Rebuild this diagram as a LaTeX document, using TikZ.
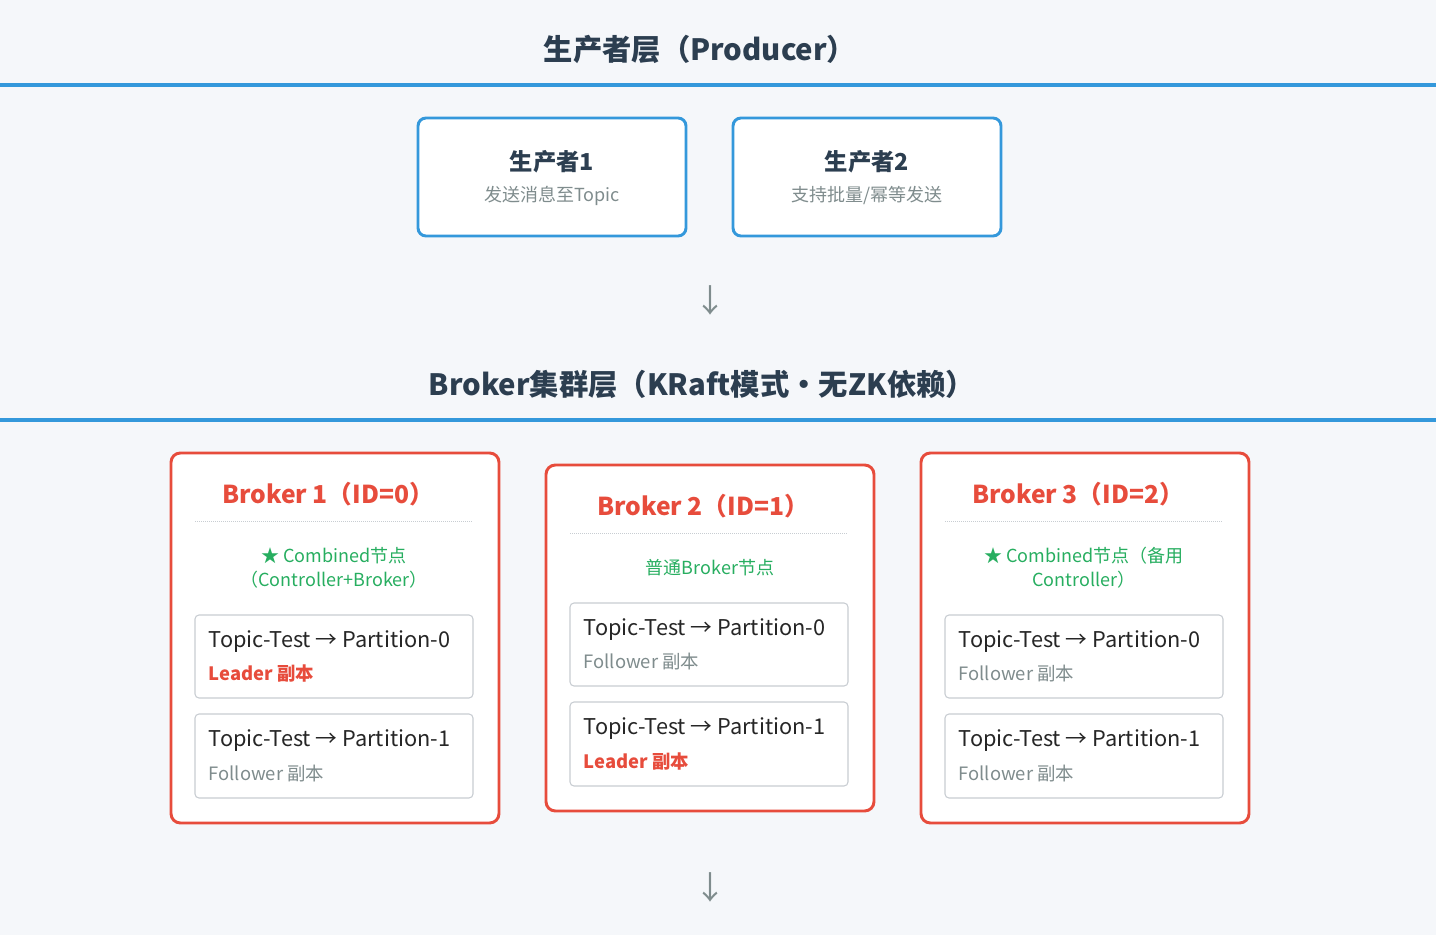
\documentclass[tikz,border=0pt]{standalone}
\usepackage{fontspec}
\setmainfont{Noto Sans CJK SC}
\definecolor{bg}{HTML}{F5F7FA}
\definecolor{blu}{HTML}{3498DB}
\definecolor{dark}{HTML}{2C3E50}
\definecolor{rd}{HTML}{E74C3C}
\definecolor{grn}{HTML}{27AE60}
\definecolor{gry}{HTML}{7F8C8D}
\definecolor{bd}{HTML}{C8CDD2}
\begin{document}
\begin{tikzpicture}[x=0.75pt,y=-0.75pt,
 ttl/.style={font=\fontsize{22}{26}\selectfont\bfseries,text=dark},
 pbox/.style={draw=blu,line width=2.2pt,fill=white,rounded corners=6pt},
 ptitle/.style={font=\fontsize{17.5}{21}\selectfont\bfseries,text=dark},
 psub/.style={font=\fontsize{13.5}{16}\selectfont,text=gry},
 bbox/.style={draw=rd,line width=2.2pt,fill=white,rounded corners=7pt},
 btitle/.style={font=\fontsize{18.5}{22}\selectfont\bfseries,text=rd},
 gtxt/.style={font=\fontsize{13.5}{18}\selectfont,text=grn,align=center},
 ibox/.style={draw=bd,line width=0.8pt,fill=white,rounded corners=3pt},
 tl/.style={font=\fontsize{16.3}{19}\selectfont,text=black!85,anchor=west},
 fl/.style={font=\fontsize{13.8}{16}\selectfont,text=gry,anchor=west},
 ll/.style={font=\fontsize{13.8}{16}\selectfont\bfseries,text=rd,anchor=west},
 arr/.style={font=\fontsize{24}{28}\selectfont,text=gry}]
\fill[bg] (0,0) rectangle (1436,935);
\useasboundingbox (0,0) rectangle (1436,935);
\node[ttl] (t1) at (700,49) {生产者层（Producer）};
\draw[blu,line width=3pt] (0,85) -- (1436,85);
\draw[pbox] (418,118) rectangle (686,236);
\node[ptitle] (p1) at (552,162) {生产者1};
\node[psub] (p1s) at (552,196) {发送消息至Topic};
\draw[pbox] (733,118) rectangle (1001,236);
\node[ptitle] (p2) at (867,162) {生产者2};
\node[psub] (p2s) at (867,196) {支持批量/幂等发送};
\node[arr] (a1) at (710,300) {↓};
\node[ttl] (t2) at (702,384) {Broker集群层（KRaft模式・无ZK依赖）};
\draw[blu,line width=3pt] (0,420) -- (1436,420);
% Broker 1
\draw[bbox] (171,453) rectangle (499,823);
\node[btitle] (b1) at (328,494) {Broker 1（ID=0）};
\draw[bd,densely dotted,line width=0.5pt] (195,521) -- (473,521);
\node[gtxt] (g1) at (334,568) {★ Combined节点\\（Controller+Broker）};
\draw[ibox] (195,615) rectangle (473,698);
\node[tl] (b1a) at (204,642) {Topic-Test → Partition-0};
\node[ll] (b1ar) at (204,674) {Leader 副本};
\draw[ibox] (195,714) rectangle (473,798);
\node[tl] (b1b) at (204,741) {Topic-Test → Partition-1};
\node[fl] (b1br) at (204,774) {Follower 副本};
% Broker 2
\draw[bbox] (546,465) rectangle (874,811);
\node[btitle] (b2) at (703,506) {Broker 2（ID=1）};
\draw[bd,densely dotted,line width=0.5pt] (570,533) -- (848,533);
\node[gtxt] (g2) at (710,568) {普通Broker节点};
\draw[ibox] (570,603) rectangle (848,686);
\node[tl] (b2a) at (579,630) {Topic-Test → Partition-0};
\node[fl] (b2ar) at (579,662) {Follower 副本};
\draw[ibox] (570,702) rectangle (848,786);
\node[tl] (b2b) at (579,729) {Topic-Test → Partition-1};
\node[ll] (b2br) at (579,762) {Leader 副本};
% Broker 3
\draw[bbox] (921,453) rectangle (1249,823);
\node[btitle] (b3) at (1078,494) {Broker 3（ID=2）};
\draw[bd,densely dotted,line width=0.5pt] (945,521) -- (1223,521);
\node[gtxt] (g3) at (1084,568) {★ Combined节点（备用\\Controller）};
\draw[ibox] (945,615) rectangle (1223,698);
\node[tl] (b3a) at (954,642) {Topic-Test → Partition-0};
\node[fl] (b3ar) at (954,674) {Follower 副本};
\draw[ibox] (945,714) rectangle (1223,798);
\node[tl] (b3b) at (954,741) {Topic-Test → Partition-1};
\node[fl] (b3br) at (954,774) {Follower 副本};
\node[arr] (a2) at (710,887) {↓};
\end{tikzpicture}
\end{document}
